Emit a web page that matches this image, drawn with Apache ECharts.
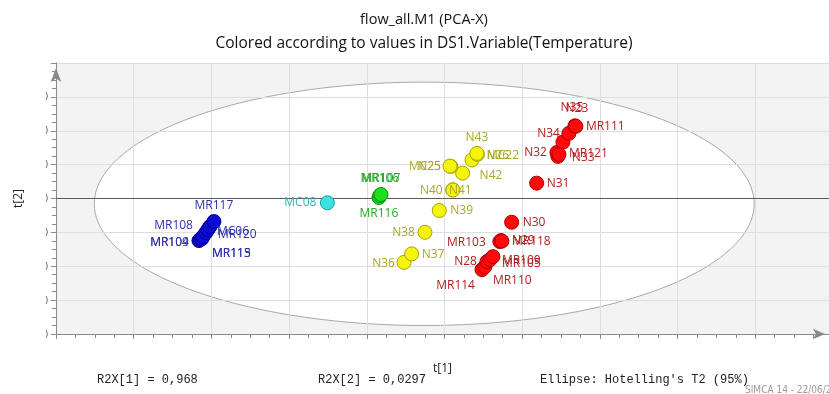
<!DOCTYPE html>
<html>
<head>
<meta charset="utf-8">
<script src="https://cdn.jsdelivr.net/npm/echarts@6/dist/echarts.min.js"></script>
<style>
  html, body { margin: 0; padding: 0; background: #ffffff; }
  #chart { width: 829px; height: 394px; }
</style>
</head>
<body>
<div id="chart"></div>
<script>
// PCA-X score plot, t[1] vs t[2], observations coloured by temperature class

// --- observation scores, grouped by temperature colour class ---
const blueNames = ['MR104', 'MR109', 'MR115', 'MR113', 'MR120', 'MC06', 'MR108', 'MR117'];
const blueT1 = [-2.90, -2.887, -2.861, -2.848, -2.810, -2.784, -2.758, -2.707];
const blueT2 = [-1.243, -1.213, -1.183, -1.124, -1.006, -0.917, -0.828, -0.680];

const cyanNames = ['MC08'];
const cyanT1 = [-1.247];
const cyanT2 = [-0.127];

const greenNames = ['MR116', 'MR106', 'MR107'];
const greenT1 = [-0.583, -0.571, -0.557];
const greenT2 = [0.030, 0.089, 0.118];

const yellowNames = ['N36', 'N37', 'N38', 'N39', 'N40', 'N41', 'N42', 'N25', 'MC25', 'MC22', 'N26', 'N43'];
const yellowT1 = [-0.261, -0.162, 0.009, 0.193, 0.366, 0.369, 0.494, 0.343, 0.331, 0.614, 0.685, 0.678];
const yellowT2 = [-1.885, -1.636, -0.997, -0.355, 0.257, 0.251, 0.749, 0.947, 0.956, 1.139, 1.302, 1.331];

const redNames = ['MR114', 'MR110', 'N28', 'MR105', 'MR109', 'MR103', 'N29', 'MR118', 'N30', 'N31',
                  'N33', 'N32', 'MR121', 'N35', 'N34', 'N23', 'MR111'];
const redT1 = [0.743, 0.781, 0.807, 0.846, 0.884, 0.973, 0.987, 1.000, 1.125, 1.447,
               1.720, 1.708, 1.734, 1.785, 1.862, 1.940, 1.952];
const redT2 = [-2.101, -2.012, -1.864, -1.805, -1.716, -1.272, -1.243, -1.257, -0.701, 0.453,
               1.243, 1.361, 1.302, 1.666, 1.923, 2.145, 2.130];

// Hotelling's T2 (95%) ellipse: centre and semi-axes in score units
const ellipseCentre = [0, -0.157];
const ellipseRadii = [4.247, 3.592];

// headings and footer statistics
const titleText = 'flow_all.M1 (PCA-X)';
const subtitleText = 'Colored according to values in DS1.Variable(Temperature)';
const footerTexts = ['R2X[1] = 0,968', 'R2X[2] = 0,0297', "Ellipse: Hotelling's T2 (95%)"];

// --- label placement around each marker: [align, dx, dy] in pixels ---
const labelPlacement = {
  MR117: ['c', 0, -16], MR108: ['r', -17, -1], MC06: ['l', 9, 2], MR120: ['l', 12, 2],
  MR113: ['l', 9, 17], MR115: ['l', 10, 15], MR109b: ['r', -11, 3], MR104: ['r', -10, 2],
  MC08: ['r', -11, 0],
  MR107: ['c', 0, -16], MR106: ['c', 0, -17], MR116: ['c', 0, 16],
  N43: ['c', 0, -16], N26: ['l', 9, 1], MC22: ['l', 15, -4], MC25: ['r', -9, 0], N25: ['r', -10, 0],
  N42: ['l', 17, 2], N40: ['r', -10, 1], N41: ['l', -4, 0.5], N39: ['l', 11, 0], N38: ['r', -10, 0],
  N37: ['l', 10, 1], N36: ['r', -9, 1],
  N30: ['l', 11, 0], N29: ['l', 11, 0], MR118: ['l', 10, 0], MR103: ['r', -14, 1],
  MR109: ['l', 9, 4], MR105: ['l', 12, 4], N28: ['r', -10, 0], MR110: ['l', 8, 14], MR114: ['r', -7, 16],
  N31: ['l', 10, 0.6], MR111: ['l', 10, 0.7], N23: ['c', 2, -17], N35: ['c', 9, -34],
  N34: ['r', -9, 0], N32: ['r', -10, 0], MR121: ['l', 10, -1], N33: ['l', 14, 1]
};
const alignMap = { l: 'left', r: 'right', c: 'center' };

function buildData(names, t1, t2, key) {
  return names.map(function (n, i) {
    const p = labelPlacement[(key && labelPlacement[n + key]) ? n + key : n] || ['l', 10, 0];
    return {
      name: n,
      value: [t1[i], t2[i]],
      label: { align: alignMap[p[0]], offset: [p[1], p[2]] }
    };
  });
}

function scoreSeries(name, data, fill, border, textColor) {
  return {
    name: name,
    type: 'scatter',
    symbol: 'circle',
    symbolSize: 14,
    z: 5,
    data: data,
    itemStyle: { color: fill, borderColor: border, borderWidth: 1, opacity: 1 },
    label: {
      show: true,
      position: 'inside',
      verticalAlign: 'middle',
      formatter: '{b}',
      color: textColor,
      fontFamily: 'Open Sans',
      fontSize: 12
    },
    emphasis: { disabled: true },
    animation: false
  };
}

const chart = echarts.init(document.getElementById('chart'), null, { renderer: 'canvas' });

const axisGrey = '#8a8a8a';
const monoFont = '12px "Liberation Mono", "DejaVu Sans Mono", monospace';

const option = {
  backgroundColor: '#ffffff',
  animation: false,
  grid: { left: 56, right: 0, top: 63, bottom: 60, containLabel: false },
  xAxis: {
    type: 'value',
    min: -4.74,
    max: 5.21,
    interval: 1,
    name: 't[1]',
    nameLocation: 'middle',
    nameGap: 29,
    nameTextStyle: { fontFamily: 'Open Sans', fontSize: 12, color: '#222' },
    axisLine: {
      onZero: false,
      lineStyle: { color: axisGrey, width: 1 },
      symbol: ['none', 'arrow'],
      symbolSize: [8, 12],
      symbolOffset: [0, -4]
    },
    axisTick: { show: true, length: 5, lineStyle: { color: axisGrey } },
    minorTick: { show: true, splitNumber: 4, length: 4, lineStyle: { color: axisGrey } },
    axisLabel: { show: false },
    splitLine: { show: true, lineStyle: { color: '#dedede', width: 1 } }
  },
  yAxis: {
    type: 'value',
    min: -4,
    max: 4,
    interval: 1,
    name: 't[2]',
    nameLocation: 'middle',
    nameRotate: 90,
    nameGap: 31,
    nameTextStyle: { fontFamily: 'Open Sans', fontSize: 12, color: '#222' },
    axisLine: {
      onZero: false,
      lineStyle: { color: axisGrey, width: 1 },
      symbol: ['none', 'arrow'],
      symbolSize: [8, 14],
      symbolOffset: [0, -5]
    },
    axisTick: { show: true, length: 5, lineStyle: { color: axisGrey } },
    minorTick: { show: true, splitNumber: 4, length: 4, lineStyle: { color: axisGrey } },
    axisLabel: {
      show: true,
      margin: 8,
      fontFamily: 'Open Sans',
      fontSize: 9,
      color: '#444',
      formatter: function (v) { return v > 3.5 ? '' : ')'; }
    },
    splitLine: { show: true, lineStyle: { color: '#dedede', width: 1 } }
  },
  series: [
    {
      // plot background and confidence ellipse, painted beneath the grid lines
      name: 'ellipse',
      type: 'custom',
      z: -1,
      silent: true,
      clip: false,
      data: [[ellipseCentre[0], ellipseCentre[1]]],
      renderItem: function (params, api) {
        const cs = params.coordSys;
        const c = api.coord([ellipseCentre[0], ellipseCentre[1]]);
        const s = api.size([ellipseRadii[0], ellipseRadii[1]]);
        const pts = [];
        const steps = 180;
        for (let k = 0; k < steps; k++) {
          const a = (k / steps) * Math.PI * 2;
          pts.push([c[0] + s[0] * Math.cos(a), c[1] + s[1] * Math.sin(a)]);
        }
        return {
          type: 'group',
          children: [
            {
              type: 'rect',
              shape: { x: cs.x, y: cs.y, width: cs.width + 4, height: cs.height },
              style: { fill: '#f3f3f3' }
            },
            {
              type: 'polygon',
              shape: { points: pts },
              style: { fill: '#ffffff', stroke: '#a8a8a8', lineWidth: 1 }
            }
          ]
        };
      }
    },
    {
      // t[2] = 0 reference line
      name: 'zero',
      type: 'scatter',
      data: [],
      z: 3,
      markLine: {
        silent: true,
        symbol: ['none', 'none'],
        label: { show: false },
        lineStyle: { color: '#5a5a5a', width: 1, type: 'solid' },
        data: [{ yAxis: 0 }],
        animation: false
      }
    },
    scoreSeries('class1', buildData(blueNames, blueT1, blueT2, 'b'), '#0c0cd6', '#00008c', '#3030aa'),
    scoreSeries('class2', buildData(cyanNames, cyanT1, cyanT2), '#3ae2e2', '#1a9c9c', '#2fb8b8'),
    scoreSeries('class3', buildData(greenNames, greenT1, greenT2), '#1ee01e', '#0b900b', '#22aa22'),
    scoreSeries('class4', buildData(yellowNames, yellowT1, yellowT2), '#f4f40c', '#a6a600', '#a8a82a'),
    scoreSeries('class5', buildData(redNames, redT1, redT2), '#ff0a0a', '#b00000', '#b02020')
  ],
  graphic: [
    {
      type: 'text', x: 424, y: 20,
      style: { text: titleText, font: '14.5px "Open Sans"', fill: '#111', align: 'center', verticalAlign: 'middle' }
    },
    {
      type: 'text', x: 424, y: 44,
      style: { text: subtitleText, font: '15.5px "Open Sans"', fill: '#111', align: 'center', verticalAlign: 'middle' }
    },
    {
      type: 'text', left: 97, top: 374,
      style: { text: footerTexts[0], font: monoFont, fill: '#222' }
    },
    {
      type: 'text', left: 318, top: 374,
      style: { text: footerTexts[1], font: monoFont, fill: '#222' }
    },
    {
      type: 'text', left: 540, top: 374,
      style: { text: footerTexts[2], font: monoFont, fill: '#222' }
    },
    {
      type: 'text', left: 745, top: 385,
      style: { text: 'SIMCA 14 - 22/06/2', font: '10px "DejaVu Sans Condensed", "Liberation Sans Narrow", sans-serif', fill: '#9a9a9a' }
    }
  ]
};

chart.setOption(option);
</script>
</body>
</html>
